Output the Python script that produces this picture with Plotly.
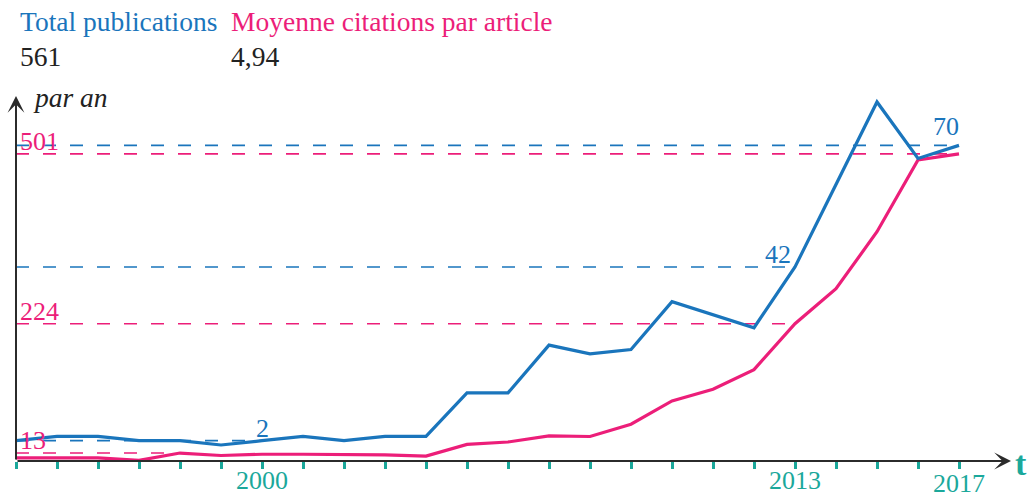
import plotly.graph_objects as go

# Yearly series
years = list(range(1994, 2018))
publications = [2, 3, 3, 2, 2, 1, 2, 3, 2, 3, 3, 13, 13, 24, 22, 23, 34, 31, 28, 42, 61, 80, 67, 70]
citations = [5, 5, 5, 1, 13, 9, 11, 11, 11, 10, 8, 27, 31, 41, 40, 60, 98, 117, 149, 224, 281, 374, 491, 501]

# Highlighted reference values: (year, value)
pub_marks = [(2000, 2), (2013, 42), (2017, 70)]
cit_marks = [(1998, 13), (2013, 224), (2017, 501)]

year_labels = [2000, 2013, 2017]

header_titles = ["Total publications", "Moyenne citations par article"]
header_values = ["561", "4,94"]

BLUE = "#1A75BC"
PINK = "#EC1E79"
TEAL = "#1BA89B"
INK = "#2b2b2b"
FONT = "'Liberation Serif', 'Times New Roman', 'DejaVu Serif', serif"

W, H = 1031, 499
L, R, T, B = 16, 21, 95, 38
PW, PH = W - L - R, H - T - B

x0 = years[0]
x1 = x0 + (W - R - L) / 41.0


def px(x):
    return (x - L) / PW


def py(y):
    return (H - B - y) / PH


fig = go.Figure()

# dashed guide lines, drawn under the series
for yr, v in pub_marks:
    fig.add_shape(type="line", xref="x", yref="y2", x0=x0, x1=yr, y0=v, y1=v,
                  line=dict(color=BLUE, width=1.6, dash="13px,14px"), layer="below")
for yr, v in cit_marks:
    fig.add_shape(type="line", xref="x", yref="y", x0=x0, x1=yr, y0=v, y1=v,
                  line=dict(color=PINK, width=1.6, dash="13px,14px"), layer="below")

fig.add_trace(go.Scatter(x=years, y=citations, mode="lines", yaxis="y",
                         line=dict(color=PINK, width=3.2), hoverinfo="x+y"))
fig.add_trace(go.Scatter(x=years, y=publications, mode="lines", yaxis="y2",
                         line=dict(color=BLUE, width=3.2), hoverinfo="x+y"))

ann = []

# value labels on the guide lines
lab_font = dict(family=FONT, size=26)
ann.append(dict(x=2000, y=2, xref="x", yref="y2", text="2", showarrow=False,
                xanchor="center", yanchor="bottom", yshift=-4, font=dict(lab_font, color=BLUE)))
ann.append(dict(x=2013, y=42, xref="x", yref="y2", text="42", showarrow=False,
                xanchor="right", yanchor="bottom", xshift=-2, yshift=-4, font=dict(lab_font, color=BLUE)))
ann.append(dict(x=2017, y=70, xref="x", yref="y2", text="70", showarrow=False,
                xanchor="right", yanchor="bottom", xshift=2, yshift=2, font=dict(lab_font, color=BLUE)))
for yr, v in cit_marks:
    ann.append(dict(x=x0, y=v, xref="x", yref="y", text=str(v), showarrow=False,
                    xanchor="left", yanchor="bottom", xshift=2, yshift=-4, font=dict(lab_font, color=PINK)))

# year labels under the axis
for yr in year_labels:
    ann.append(dict(x=yr, y=py(480 if yr != 2017 else 483), xref="x", yref="paper",
                    text=str(yr), showarrow=False, xanchor="center", yanchor="middle",
                    font=dict(family=FONT, size=26, color=TEAL)))

# header
head_font = dict(family=FONT, size=27.5)
ann.append(dict(x=px(18), y=py(22), xref="paper", yref="paper", text=header_titles[0],
                showarrow=False, xanchor="left", yanchor="middle", font=dict(head_font, color=BLUE)))
ann.append(dict(x=px(229), y=py(22), xref="paper", yref="paper", text=header_titles[1],
                showarrow=False, xanchor="left", yanchor="middle", font=dict(head_font, color=PINK)))
ann.append(dict(x=px(18), y=py(56), xref="paper", yref="paper", text=header_values[0],
                showarrow=False, xanchor="left", yanchor="middle", font=dict(head_font, color="#222")))
ann.append(dict(x=px(229), y=py(56), xref="paper", yref="paper", text=header_values[1],
                showarrow=False, xanchor="left", yanchor="middle", font=dict(head_font, color="#222")))
ann.append(dict(x=px(31), y=py(97), xref="paper", yref="paper", text="<i>par an</i>",
                showarrow=False, xanchor="left", yanchor="middle", font=dict(head_font, color="#222")))

# axis arrows
ann.append(dict(x=px(1011), y=py(461), xref="paper", yref="paper", ax=-(1011 - L), ay=0,
                text="", showarrow=True, arrowhead=3, arrowsize=1.4, arrowwidth=2, arrowcolor=INK))
ann.append(dict(x=px(16), y=py(96), xref="paper", yref="paper", ax=0, ay=461 - 96,
                text="", showarrow=True, arrowhead=3, arrowsize=1.4, arrowwidth=2, arrowcolor=INK))
ann.append(dict(x=px(1021), y=py(464), xref="paper", yref="paper", text="<b>t</b>",
                showarrow=False, xanchor="center", yanchor="middle", font=dict(family=FONT, size=34, color=TEAL)))

fig.update_layout(
    width=W, height=H,
    margin=dict(l=L, r=R, t=T, b=B, pad=0),
    paper_bgcolor="white", plot_bgcolor="white",
    showlegend=False,
    xaxis=dict(range=[x0, x1], tickvals=years, ticks="outside", ticklen=7, tickwidth=3,
               tickcolor=TEAL, showticklabels=False, showgrid=False, zeroline=False,
               showline=False, fixedrange=True),
    yaxis=dict(range=[0, PH / 0.613], showticklabels=False, showgrid=False, zeroline=False,
               showline=False, ticks=""),
    yaxis2=dict(range=[(449.35 - (H - B)) / 4.3425, (449.35 - T) / 4.3425], overlaying="y",
                showticklabels=False, showgrid=False, zeroline=False, showline=False, ticks=""),
    annotations=ann,
)

fig.write_html("out.html")
